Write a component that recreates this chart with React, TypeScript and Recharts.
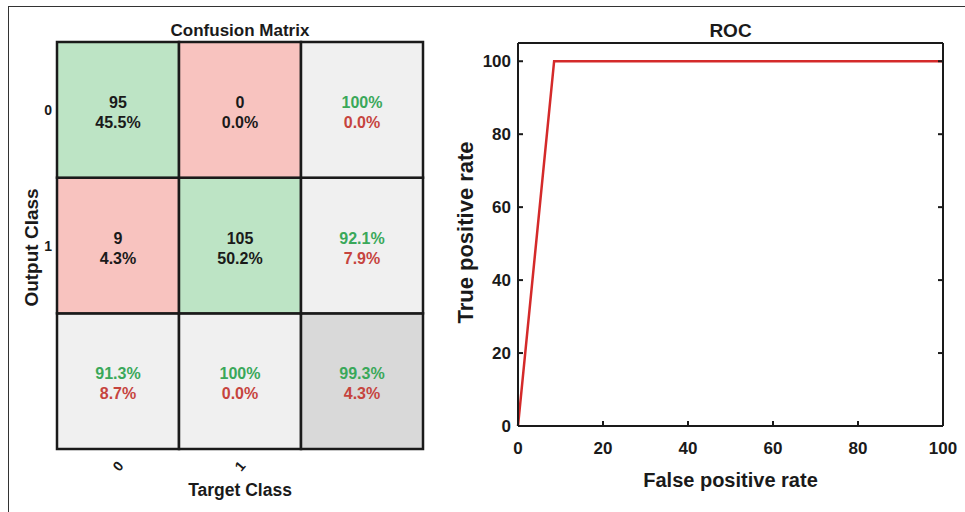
import { BarChart, Bar, XAxis, YAxis, Label, LineChart, Line } from "recharts";

const FONT = "'Liberation Sans', Arial, sans-serif";

// confusion matrix (rows = output class, cols = target class)
const classLabels = ["0", "1"];
const counts = [
  [95, 0],
  [9, 105],
];
const countShares = [
  [45.5, 0.0],
  [4.3, 50.2],
];
const rowCorrect = [100, 92.1];
const rowWrong = [0.0, 7.9];
const colCorrect = [91.3, 100];
const colWrong = [8.7, 0.0];
const overallCorrect = 99.3;
const overallWrong = 4.3;

// ROC curve
const fprValues = [0, 8.5, 100];
const tprValues = [0, 100, 100];
const rocTicks = [0, 20, 40, 60, 80, 100];

const GREEN_FILL = "#bde4c5";
const RED_FILL = "#f8c3bf";
const GRAY_FILL = "#f0f0f0";
const DARK_FILL = "#d9d9d9";
const GREEN_TEXT = "#3aa85a";
const RED_TEXT = "#c6443e";
const INK = "#1a1a1a";

const pct = (v: number) => (v === 100 ? "100%" : `${v.toFixed(1)}%`);

const matrixData = [0, 1, 2].map((c) => ({
  name: classLabels[c] ?? "",
  r0: 1,
  r1: 1,
  r2: 1,
}));

const rocData = fprValues.map((fpr, i) => ({ fpr, tpr: tprValues[i] }));

function cellInfo(row: number, col: number) {
  if (row < 2 && col < 2) {
    return {
      fill: row === col ? GREEN_FILL : RED_FILL,
      top: String(counts[row][col]),
      bottom: pct(countShares[row][col]),
      topColor: INK,
      bottomColor: INK,
    };
  }
  if (row < 2) {
    return {
      fill: GRAY_FILL,
      top: pct(rowCorrect[row]),
      bottom: pct(rowWrong[row]),
      topColor: GREEN_TEXT,
      bottomColor: RED_TEXT,
    };
  }
  if (col < 2) {
    return {
      fill: GRAY_FILL,
      top: pct(colCorrect[col]),
      bottom: pct(colWrong[col]),
      topColor: GREEN_TEXT,
      bottomColor: RED_TEXT,
    };
  }
  return {
    fill: DARK_FILL,
    top: pct(overallCorrect),
    bottom: pct(overallWrong),
    topColor: GREEN_TEXT,
    bottomColor: RED_TEXT,
  };
}

function makeCellShape(row: number) {
  return (props: any) => {
    const { x, y, width, height, index } = props;
    const info = cellInfo(row, index);
    const cx = x + width / 2;
    const cy = y + height / 2;
    return (
      <g>
        <rect x={x} y={y} width={width} height={height} fill={info.fill} stroke={INK} strokeWidth={2.5} />
        <text
          x={cx}
          y={cy - 2}
          textAnchor="middle"
          fontSize={16}
          fontWeight={700}
          fontFamily={FONT}
          fill={info.topColor}
        >
          {info.top}
        </text>
        <text
          x={cx}
          y={cy + 18}
          textAnchor="middle"
          fontSize={16}
          fontWeight={700}
          fontFamily={FONT}
          fill={info.bottomColor}
        >
          {info.bottom}
        </text>
      </g>
    );
  };
}

function RotatedTick(props: any) {
  const { x, y, payload } = props;
  const ty = y + 9;
  return (
    <text
      x={x}
      y={ty}
      transform={`rotate(-50, ${x}, ${ty})`}
      textAnchor="middle"
      dominantBaseline="central"
      fontSize={14}
      fontWeight={700}
      fontFamily={FONT}
      fill={INK}
    >
      {payload.value}
    </text>
  );
}

function RowTick(props: any) {
  const { x, y, payload } = props;
  return (
    <text
      x={x}
      y={y}
      textAnchor="end"
      dominantBaseline="central"
      fontSize={14}
      fontWeight={700}
      fontFamily={FONT}
      fill={INK}
    >
      {classLabels[Math.round(2.5 - payload.value)]}
    </text>
  );
}

function ConfusionMatrix() {
  return (
    <BarChart
      width={440}
      height={512}
      data={matrixData}
      barCategoryGap={0}
      barGap={0}
      margin={{ top: 0, right: 17, left: 0, bottom: 13 }}
    >
      <XAxis
        xAxisId="title"
        orientation="top"
        dataKey="name"
        height={42}
        axisLine={false}
        tickLine={false}
        tick={false}
      >
        <Label
          value="Confusion Matrix"
          position="center"
          dy={9}
          style={{ fontSize: 17, fontWeight: 700, fill: INK, fontFamily: FONT }}
        />
      </XAxis>
      <XAxis
        dataKey="name"
        height={50}
        axisLine={false}
        tickLine={false}
        tick={<RotatedTick />}
        interval={0}
      >
        <Label
          value="Target Class"
          position="center"
          dy={16}
          style={{ fontSize: 17.5, fontWeight: 700, fill: INK, fontFamily: FONT }}
        />
      </XAxis>
      <YAxis
        type="number"
        domain={[0, 3]}
        ticks={[2.5, 1.5]}
        width={57}
        axisLine={false}
        tickLine={false}
        tickSize={4}
        tickMargin={1}
        tick={<RowTick />}
      >
        <Label
          value="Output Class"
          angle={-90}
          position="center"
          dx={3}
          dy={2}
          style={{ fontSize: 19, fontWeight: 700, fill: INK, fontFamily: FONT, textAnchor: "middle" }}
        />
      </YAxis>
      <Bar dataKey="r2" stackId="m" isAnimationActive={false} shape={makeCellShape(2)} />
      <Bar dataKey="r1" stackId="m" isAnimationActive={false} shape={makeCellShape(1)} />
      <Bar dataKey="r0" stackId="m" isAnimationActive={false} shape={makeCellShape(0)} />
    </BarChart>
  );
}

const axisStroke = { stroke: INK, strokeWidth: 2 };
const tickFont = { fontSize: 17, fontWeight: 700, fill: INK, fontFamily: FONT };

function RocChart() {
  return (
    <LineChart
      width={525}
      height={512}
      data={rocData}
      margin={{ top: 23, right: 0, left: 0, bottom: 26 }}
    >
      <XAxis
        type="number"
        dataKey="fpr"
        domain={[0, 100]}
        ticks={rocTicks}
        height={60}
        axisLine={axisStroke}
        tickLine={axisStroke}
        tickSize={-5}
        tickMargin={21}
        tick={tickFont}
      >
        <Label
          value="False positive rate"
          position="center"
          dy={24}
          style={{ fontSize: 20, fontWeight: 700, fill: INK, fontFamily: FONT }}
        />
      </XAxis>
      <XAxis
        xAxisId="top"
        orientation="top"
        type="number"
        domain={[0, 100]}
        allowDataOverflow
        ticks={rocTicks}
        height={20}
        axisLine={axisStroke}
        tickLine={axisStroke}
        tickSize={-5}
        tickFormatter={() => ""}
      >
        <Label
          value="ROC"
          position="center"
          dy={-3}
          style={{ fontSize: 19, fontWeight: 700, fill: INK, fontFamily: FONT }}
        />
      </XAxis>
      <YAxis
        type="number"
        domain={[0, 105]}
        ticks={rocTicks}
        width={78}
        axisLine={axisStroke}
        tickLine={axisStroke}
        tickSize={-5}
        tickMargin={12}
        tick={tickFont}
      >
        <Label
          value="True positive rate"
          angle={-90}
          position="center"
          dx={-14}
          dy={-2}
          style={{ fontSize: 22, fontWeight: 700, fill: INK, fontFamily: FONT, textAnchor: "middle" }}
        />
      </YAxis>
      <YAxis
        yAxisId="right"
        orientation="right"
        type="number"
        domain={[0, 105]}
        allowDataOverflow
        ticks={rocTicks}
        width={22}
        axisLine={axisStroke}
        tickLine={axisStroke}
        tickSize={-5}
        tickFormatter={() => ""}
      />
      <Line
        type="linear"
        dataKey="tpr"
        stroke="#d42a2a"
        strokeWidth={2.5}
        dot={false}
        isAnimationActive={false}
      />
    </LineChart>
  );
}

export default function App() {
  return (
    <div
      style={{
        position: "absolute",
        top: 0,
        left: 0,
        width: 965,
        height: 512,
        background: "#fff",
        fontFamily: FONT,
        overflow: "hidden",
      }}
    >
      <div
        style={{
          position: "absolute",
          left: 8,
          top: 6,
          right: 0,
          bottom: 0,
          borderTop: "1.5px solid #333",
          borderLeft: "1.5px solid #333",
        }}
      />
      <div style={{ position: "absolute", left: 0, top: 0 }}>
        <ConfusionMatrix />
      </div>
      <div style={{ position: "absolute", left: 440, top: 0 }}>
        <RocChart />
      </div>
    </div>
  );
}
